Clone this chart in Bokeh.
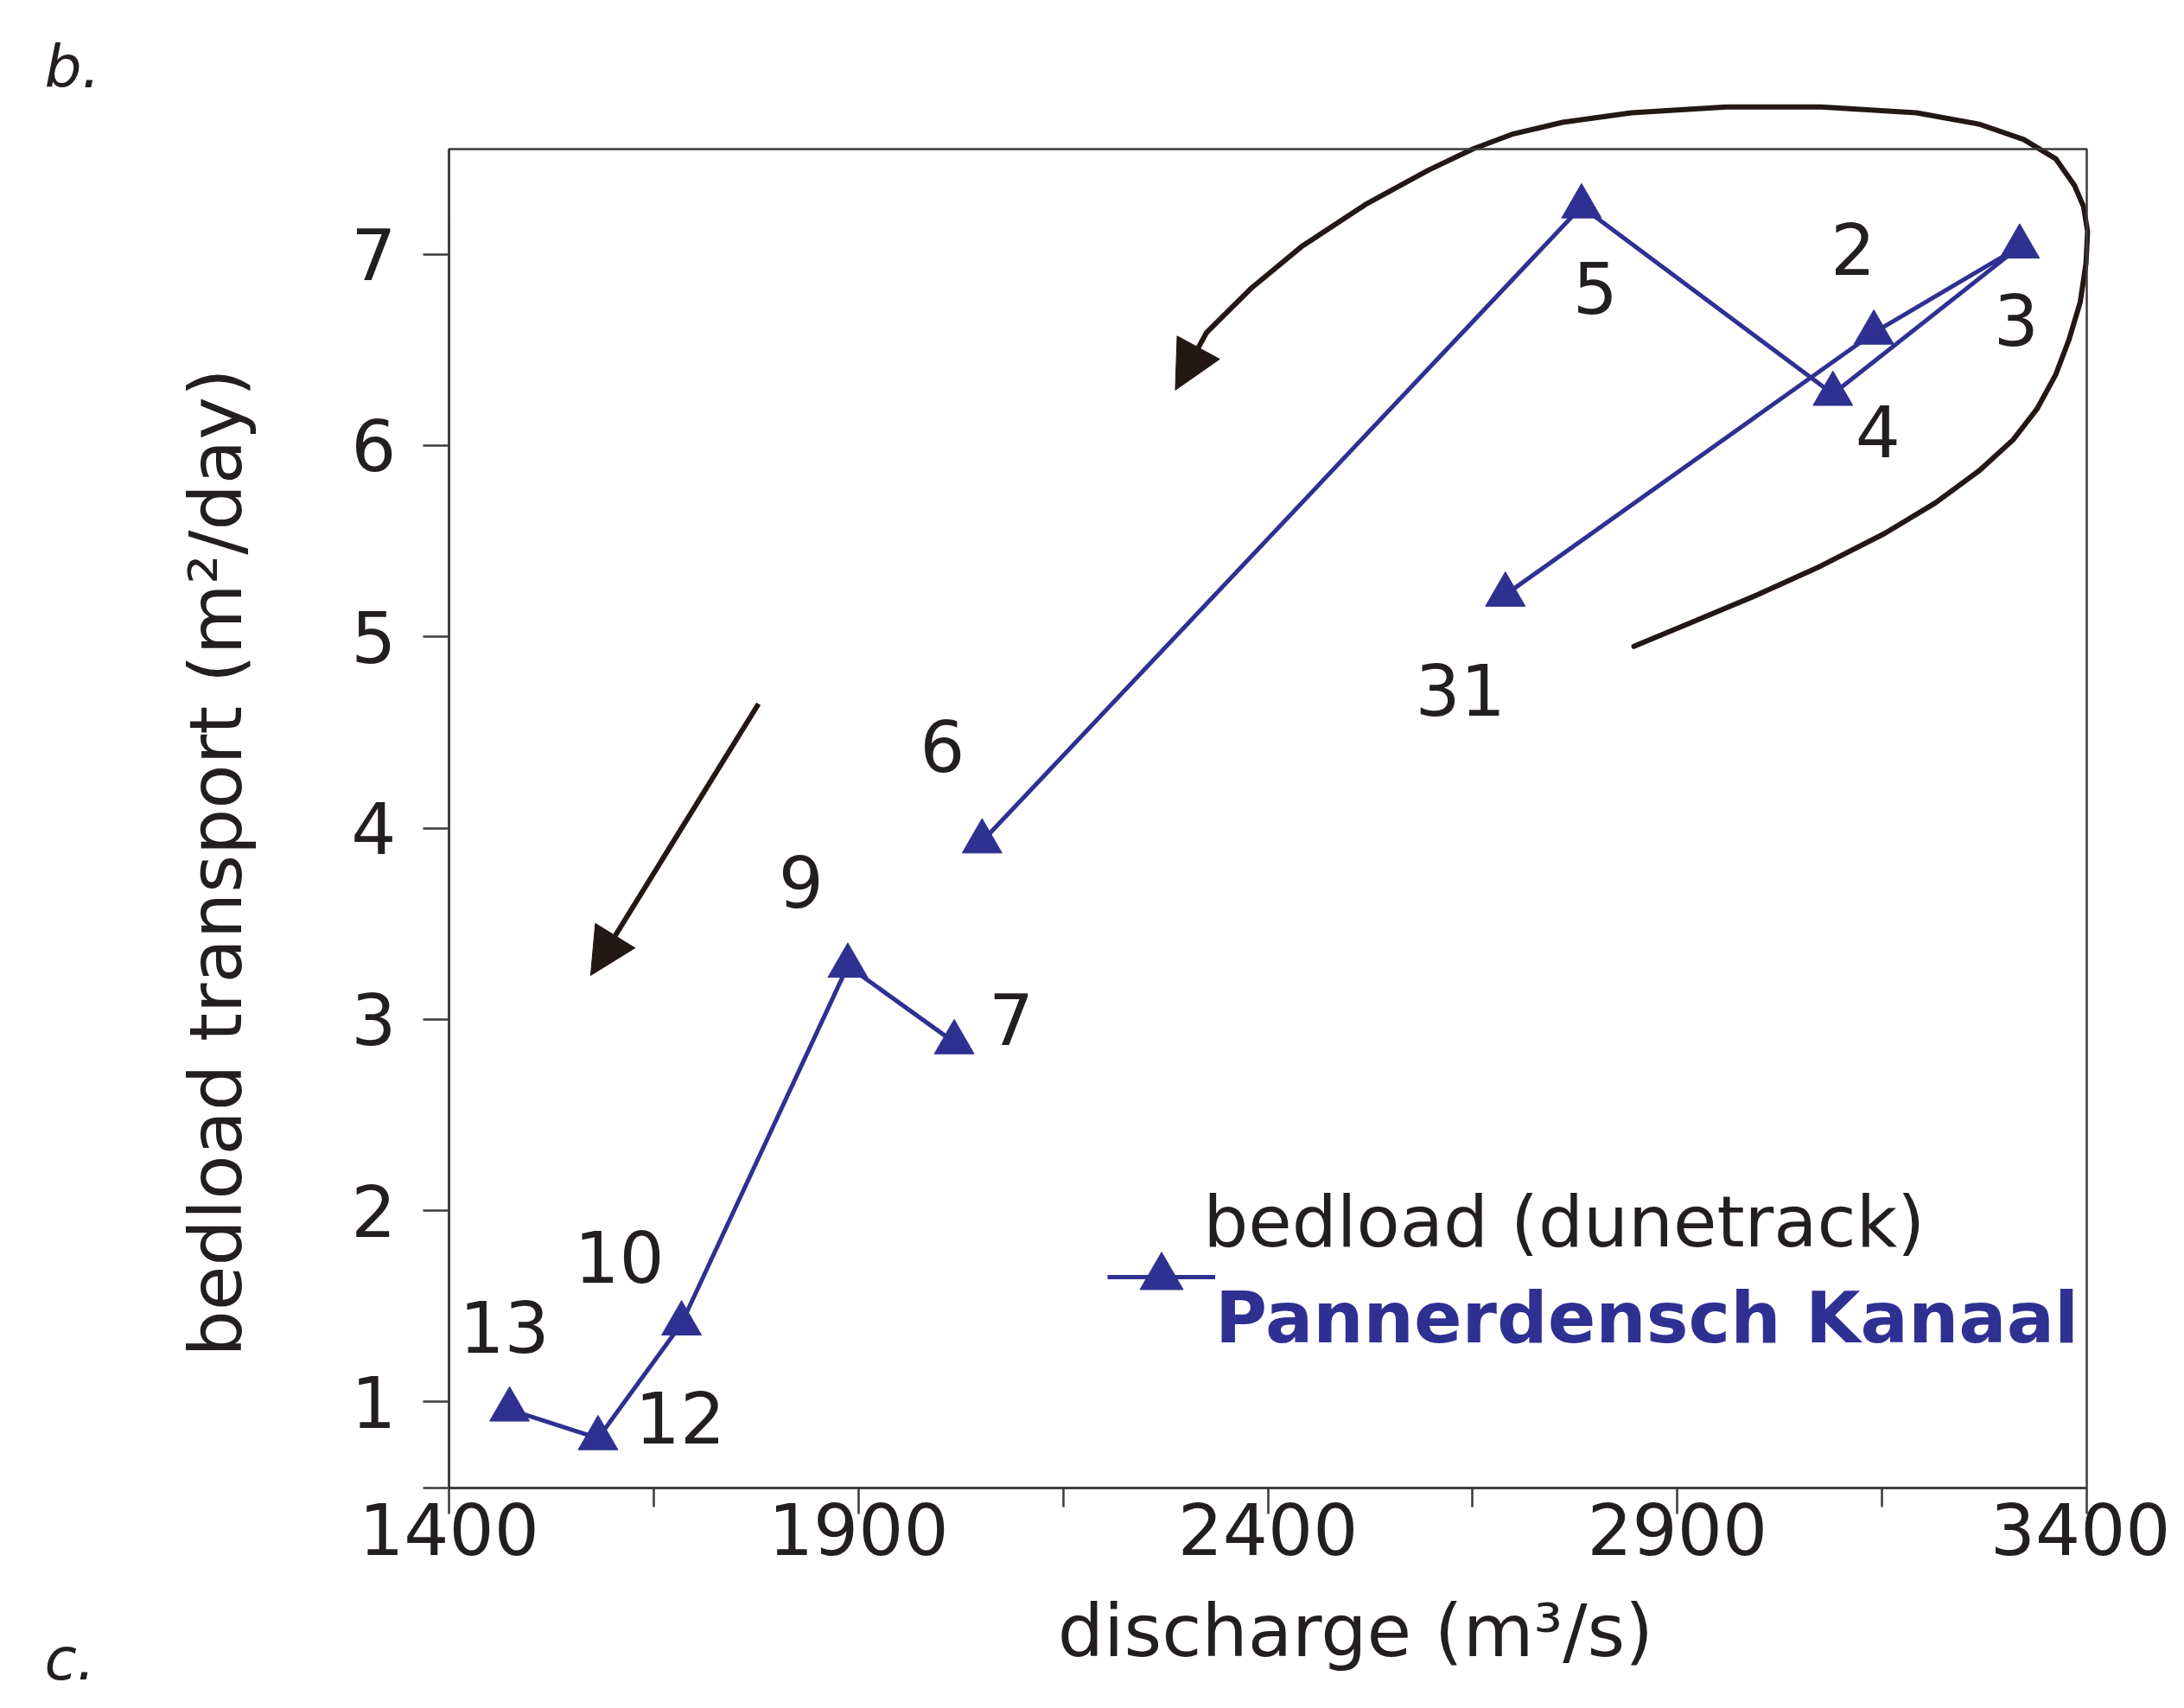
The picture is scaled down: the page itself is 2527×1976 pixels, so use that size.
import math
import pandas as pd
from bokeh.plotting import figure
from bokeh.models import (ColumnDataSource, FixedTicker, Arrow, NormalHead, BoxAnnotation,
                          Label, Legend, LegendItem, Range1d)
from bokeh.core.properties import value
from bokeh.embed import file_html
from bokeh.resources import INLINE

# ---------------- data ----------------
day_labels = ["31", "2", "3", "4", "5", "6", "7", "9", "10", "12", "13"]
discharge = [2690, 3140, 3318, 3090, 2783, 2051, 2017, 1887, 1684, 1582, 1474]   # m3/s
bedload = [5.22, 6.59, 7.04, 6.27, 7.25, 3.93, 2.88, 3.28, 1.41, 0.81, 0.96]     # m2/day
segment = [0, 0, 0, 0, 0, 0, 1, 1, 1, 1, 1]

x_ticks_major = [1400, 1900, 2400, 2900, 3400]
x_ticks_minor = [1650, 2150, 2650, 3150]
y_ticks = [1, 2, 3, 4, 5, 6, 7]
x_limits = (1400, 3400)
y_limits = (0.55, 7.55)

# label offsets (pixels, right / down) for the day labels
label_dx = [-52, -24, -4, 52, 16, -46, 66, -54, -72, 95, -6]
label_dy = [110, -97, 85, 43, 94, -111, -27, -97, -77, -24, -96]

# hand-drawn annotation arrows of the original (data coordinates)
loop_x = [2847, 2920, 2998, 3075, 3153, 3215, 3269, 3310, 3339, 3362, 3378, 3392, 3399, 3401,
          3396, 3385, 3362, 3323, 3269, 3192, 3076, 2960, 2844, 2760, 2700, 2650, 2596, 2519,
          2441, 2379, 2325]
loop_y = [4.95, 5.08, 5.22, 5.37, 5.54, 5.70, 5.87, 6.03, 6.19, 6.37, 6.55, 6.75, 6.95, 7.12,
          7.25, 7.36, 7.50, 7.60, 7.68, 7.74, 7.77, 7.77, 7.74, 7.69, 7.63, 7.55, 7.44, 7.26,
          7.04, 6.82, 6.59]
loop_tip = (2287, 6.29)
falling_arrow = ((1778, 4.65), (1573, 3.23))

# ---------------- layout (pixels) ----------------
W, H = 2511, 1960
AX_LEFT, AX_RIGHT, AX_TOP, AX_BOTTOM = 519, 2414, 172, 1721   # where the axes box sits
kx = (AX_RIGHT - AX_LEFT) / (x_limits[1] - x_limits[0])
ky = (AX_BOTTOM - AX_TOP) / (y_limits[1] - y_limits[0])
x_view = (x_limits[0] - AX_LEFT / kx, x_limits[1] + (W - AX_RIGHT) / kx)
y_view = (y_limits[0] - (H - AX_BOTTOM) / ky, y_limits[1] + AX_TOP / ky)

BLUE = "#2E3192"
INK = "#231f20"
ARROW = "#231815"
FRAME = "#3a3a3a"
FONT = "DejaVu Sans"

df = pd.DataFrame(dict(day=day_labels, discharge=discharge, bedload=bedload,
                       segment=segment, dx=label_dx, dy=label_dy))

p = figure(width=W, height=H, x_range=Range1d(*x_view), y_range=Range1d(*y_view),
           output_backend="svg", toolbar_location=None,
           min_border=0, min_border_left=0, min_border_right=0,
           min_border_top=0, min_border_bottom=0)
p.title.visible = False
p.grid.visible = False
p.outline_line_alpha = 0
p.background_fill_color = "white"
p.border_fill_color = "white"

# axes, pinned to the box corners so that annotations may run outside the box
p.xaxis.fixed_location = y_limits[0]
p.yaxis.fixed_location = x_limits[0]
p.xaxis.bounds = x_limits
p.yaxis.bounds = y_limits
p.xaxis.ticker = FixedTicker(ticks=x_ticks_major, minor_ticks=x_ticks_minor)
p.yaxis.ticker = FixedTicker(ticks=y_ticks, minor_ticks=[y_limits[0]])
for ax in (p.xaxis[0], p.yaxis[0]):
    ax.axis_line_color = FRAME
    ax.axis_line_width = 2.5
    ax.major_tick_line_color = FRAME
    ax.major_tick_line_width = 2.5
    ax.minor_tick_line_color = FRAME
    ax.minor_tick_line_width = 2.5
    ax.major_tick_in = 0
    ax.minor_tick_in = 0
    ax.major_label_text_font = FONT
    ax.major_label_text_font_size = "82px"
    ax.major_label_text_color = INK

p.xaxis.major_tick_out = 30
p.xaxis.minor_tick_out = 22
p.xaxis.major_label_standoff = -13
p.yaxis.major_tick_out = 30
p.yaxis.minor_tick_out = 30
p.yaxis.major_label_standoff = 31
p.yaxis.major_label_orientation = "horizontal"

# top / right edges of the axes box
p.add_layout(BoxAnnotation(left=x_limits[0], right=x_limits[1], bottom=y_limits[0], top=y_limits[1],
                           fill_alpha=0, line_color=FRAME, line_width=2.5, line_alpha=1))

# axis titles
p.add_layout(Label(x=2507, y=-0.196, text="discharge (m³/s)", text_font=FONT,
                   text_font_size="84px", text_color=INK, text_align="center",
                   text_baseline="middle"))
p.add_layout(Label(x=1116, y=3.82, text="bedload transport (m²/day)", text_font=FONT,
                   text_font_size="84px", text_color=INK, text_align="center",
                   text_baseline="middle", angle=math.pi / 2))

# data lines (two runs) and markers
line_renderers = []
for _, g in df.groupby("segment"):
    r = p.line(x="discharge", y="bedload", source=ColumnDataSource(g),
               line_color=BLUE, line_width=5)
    line_renderers.append(r)

src = ColumnDataSource(df)
pts = p.scatter(x="discharge", y="bedload", source=src, marker="triangle", size=46,
                fill_color=BLUE, line_color=BLUE)

p.text(x="discharge", y="bedload", text="day", x_offset="dx", y_offset="dy", source=src,
       text_align="center", text_baseline="middle", text_font=value(FONT),
       text_font_size="82px", text_color=INK)

# hysteresis loop arrow and falling-limb arrow
p.line(x=loop_x, y=loop_y, line_color=ARROW, line_width=6, line_join="round", line_cap="round")
p.add_layout(Arrow(x_start=loop_x[-1], y_start=loop_y[-1], x_end=loop_tip[0], y_end=loop_tip[1],
                   line_color=ARROW, line_width=6,
                   end=NormalHead(size=56, fill_color=ARROW, line_color=ARROW)))
p.add_layout(Arrow(x_start=falling_arrow[0][0], y_start=falling_arrow[0][1],
                   x_end=falling_arrow[1][0], y_end=falling_arrow[1][1],
                   line_color=ARROW, line_width=6,
                   end=NormalHead(size=54, fill_color=ARROW, line_color=ARROW)))

# legend: the symbol sits between the two text lines, as in the original
legend = Legend(items=[LegendItem(label="\nPannerdensch Kanaal", renderers=[line_renderers[0], pts])],
                location=(1281, 388), orientation="vertical",
                glyph_width=125, glyph_height=130, label_standoff=0,
                padding=0, margin=0, spacing=0,
                border_line_alpha=0, background_fill_alpha=0,
                label_text_font=FONT, label_text_font_size="82px",
                label_text_line_height=1.5,
                label_text_font_style="bold", label_text_color=BLUE)
p.add_layout(legend)
p.add_layout(Label(x=2321, y=1.94, text="bedload (dunetrack)", text_font=FONT,
                   text_font_size="82px", text_color=INK, text_align="left",
                   text_baseline="alphabetic"))

# panel letters
p.add_layout(Label(x=906, y=7.98, text="b.", text_font=FONT, text_font_size="68px",
                   text_font_style="italic", text_color=INK, text_baseline="alphabetic"))
p.add_layout(Label(x=906, y=-0.345, text="c.", text_font=FONT, text_font_size="68px",
                   text_font_style="italic", text_color=INK, text_baseline="alphabetic"))

open("out.html", "w").write(file_html(p, INLINE))
